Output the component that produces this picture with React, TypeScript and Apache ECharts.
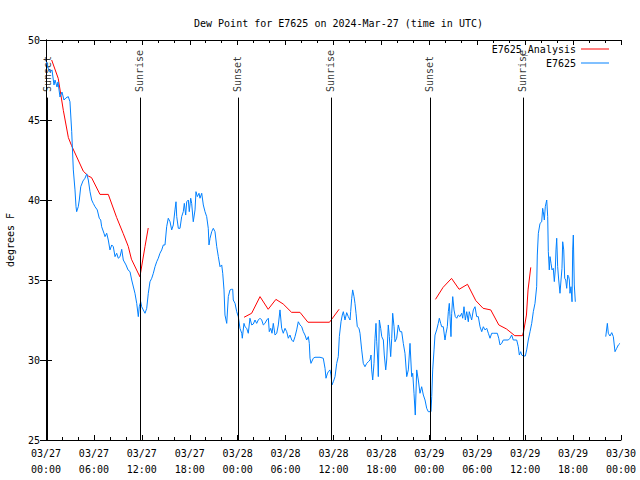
import React, { useEffect, useRef } from "react";
import * as echarts from "echarts";

// hours since 2024-03-27 00:00 UTC, dew point in degrees F
const analysisData: (number[] | null)[] = [
  [0.71, 48.75], [1.53, 47.6], [2.17, 45.6], [2.8, 43.9], [3.2, 43.4], [4.67, 41.8], [5.3, 41.5],
  [5.7, 41.4], [6.76, 40.35], [7.8, 40.35], [8.85, 38.9], [9.67, 37.9], [10.3, 37.1], [10.7, 36.3],
  [11.76, 35.2], [12.4, 37.1], [12.8, 38.25],
  null,
  [24.8, 32.67], [25.75, 32.92], [26.8, 33.96], [27.82, 33.17], [28.79, 33.79], [29.7, 33.5],
  [30.75, 32.98], [31.8, 32.98], [32.8, 32.36], [35.5, 32.36], [36.7, 33.17],
  null,
  [48.77, 33.79], [49.72, 34.54], [50.78, 35.1], [51.73, 34.42], [52.78, 34.73], [53.82, 33.71],
  [54.73, 33.23], [55.69, 33.13], [56.7, 32.19], [57.66, 31.94], [58.7, 31.52], [59.66, 31.52],
  [59.8, 31.77], [60.16, 32.81], [60.36, 34.38], [60.7, 35.79],
];

const stationData: (number[] | null)[] = [
  [0.06, 48.63], [0.25, 48.25], [0.5, 48.0], [0.75, 48.13], [1.0, 47.19], [1.13, 47.5], [1.38, 47.06],
  [1.5, 47.38], [1.75, 46.44], [2.0, 46.75], [2.25, 46.25], [2.5, 46.38], [2.79, 46.46], [3.0, 46.14],
  [3.22, 44.27], [3.42, 41.88], [3.63, 40.63], [3.76, 39.58], [3.84, 39.27], [4.04, 39.58], [4.17, 40.0],
  [4.35, 40.83], [4.63, 41.19], [4.88, 41.36], [5.1, 41.63], [5.3, 41.25], [5.51, 40.52], [5.72, 40.0],
  [5.92, 39.79], [6.14, 39.58], [6.42, 39.38], [6.67, 38.86], [6.85, 38.75], [6.97, 38.33], [7.26, 37.92],
  [7.39, 37.71], [7.6, 37.92], [7.8, 37.5], [8.01, 36.88], [8.23, 37.19], [8.43, 37.08], [8.64, 36.46],
  [8.85, 36.67], [9.05, 36.36], [9.27, 36.46], [9.48, 36.92], [9.68, 36.25], [10.02, 35.94], [10.27, 35.63],
  [10.52, 35.52], [10.73, 35.0], [11.14, 34.17], [11.36, 33.54], [11.56, 32.71], [11.68, 33.33],
  [11.86, 33.64], [11.98, 33.33], [12.18, 33.13], [12.4, 32.92], [12.61, 33.23], [12.81, 34.17],
  [13.02, 34.89], [13.24, 35.11], [13.44, 35.42], [13.65, 35.83], [13.86, 36.14], [14.06, 36.36],
  [14.27, 36.67], [14.49, 36.88], [14.69, 37.19], [14.9, 37.19], [15.11, 38.33], [15.31, 38.86],
  [15.53, 38.64], [15.74, 38.13], [15.94, 38.44], [16.15, 39.38], [16.28, 39.89], [16.37, 38.96],
  [16.57, 38.23], [16.78, 38.23], [16.99, 38.96], [17.19, 39.27], [17.32, 39.79], [17.49, 39.06],
  [17.62, 39.89], [17.82, 40.0], [17.94, 39.27], [18.12, 40.11], [18.24, 39.79], [18.44, 38.64],
  [18.66, 39.38], [18.78, 40.52], [18.95, 40.21], [19.16, 40.42], [19.28, 40.11], [19.5, 40.42],
  [19.7, 39.69], [19.91, 39.27], [20.12, 38.96], [20.32, 38.23], [20.41, 37.19], [20.54, 37.61],
  [20.75, 38.02], [20.95, 38.23], [21.16, 38.02], [21.38, 37.08], [21.58, 36.46], [21.79, 35.83],
  [22.0, 35.94], [22.13, 35.42], [22.29, 34.38], [22.41, 32.81], [22.63, 32.29], [22.83, 33.96],
  [23.04, 34.38], [23.25, 34.42], [23.38, 34.42], [23.45, 33.75], [23.67, 33.54], [23.88, 33.02],
  [24.08, 32.71], [24.29, 31.98], [24.51, 31.67], [24.58, 31.36], [24.79, 32.29], [24.92, 32.08],
  [25.13, 31.98], [25.33, 31.67], [25.54, 32.61], [25.76, 32.19], [25.96, 32.25], [26.17, 32.5],
  [26.38, 32.29], [26.58, 32.5], [26.8, 32.61], [27.01, 32.5], [27.21, 32.19], [27.42, 32.29],
  [27.64, 32.5], [27.84, 32.61], [27.96, 31.77], [28.14, 31.98], [28.3, 31.67], [28.46, 32.29],
  [28.68, 31.56], [28.89, 31.67], [29.09, 32.19], [29.3, 33.13], [29.51, 31.98], [29.71, 31.67],
  [29.93, 31.98], [30.14, 31.77], [30.34, 31.36], [30.55, 31.56], [30.77, 31.25], [30.97, 31.14],
  [31.18, 31.46], [31.39, 31.88], [31.59, 32.39], [31.81, 32.19], [32.02, 32.08], [32.22, 31.77],
  [32.43, 31.56], [32.64, 31.25], [32.85, 31.46], [32.97, 31.04], [33.06, 30.11], [33.18, 29.79],
  [33.47, 30.11], [33.68, 30.17], [34.31, 30.17], [34.72, 30.11], [34.94, 29.48], [35.06, 28.86],
  [35.22, 29.13], [35.35, 29.27], [35.56, 29.38], [35.69, 29.06], [35.81, 28.44], [35.98, 28.64],
  [36.19, 28.96], [36.4, 29.79], [36.6, 30.21], [36.73, 31.46], [36.94, 32.39], [37.1, 32.81],
  [37.23, 33.02], [37.44, 32.5], [37.65, 32.96], [37.85, 32.71], [38.07, 32.5], [38.15, 33.02],
  [38.28, 33.86], [38.4, 34.38], [38.57, 33.96], [38.69, 33.54], [38.82, 32.92], [38.98, 32.08],
  [39.19, 31.98], [39.32, 31.67], [39.53, 30.63], [39.73, 29.79], [39.94, 29.58], [40.16, 29.79],
  [40.36, 29.89], [40.57, 30.0], [40.7, 30.31], [40.78, 29.38], [40.91, 28.75], [41.07, 29.79],
  [41.2, 31.36], [41.32, 32.29], [41.41, 31.14], [41.54, 30.0], [41.61, 28.96], [41.74, 32.5],
  [41.91, 31.98], [42.04, 31.46], [42.24, 31.25], [42.36, 30.31], [42.54, 29.38], [42.66, 30.0],
  [42.86, 32.19], [42.99, 31.46], [43.16, 30.21], [43.29, 31.36], [43.41, 32.92], [43.58, 32.08],
  [43.7, 31.14], [43.91, 31.36], [44.11, 32.19], [44.33, 31.77], [44.54, 31.77], [44.74, 31.04],
  [44.95, 30.42], [45.17, 28.96], [45.37, 29.38], [45.58, 31.04], [45.79, 28.96], [45.92, 29.17],
  [46.08, 27.92], [46.24, 26.56], [46.42, 29.38], [46.62, 28.75], [46.83, 27.92], [47.04, 28.33],
  [47.25, 27.81], [47.46, 27.5], [47.67, 26.98], [47.87, 26.77], [48.21, 26.77], [48.3, 27.71],
  [48.42, 29.38], [48.59, 30.63], [48.71, 31.56], [48.92, 31.88], [49.12, 32.29], [49.25, 32.61],
  [49.42, 32.29], [49.55, 32.08], [49.75, 32.08], [49.96, 31.25], [50.09, 31.67], [50.25, 32.08],
  [50.38, 33.02], [50.5, 33.54], [50.59, 32.71], [50.71, 31.46], [50.8, 32.92], [50.93, 33.96],
  [51.09, 33.13], [51.25, 32.71], [51.43, 32.61], [51.63, 32.81], [51.84, 32.71], [52.05, 32.92],
  [52.18, 32.61], [52.34, 33.33], [52.51, 32.5], [52.68, 33.02], [52.88, 32.39], [53.0, 33.02],
  [53.18, 32.71], [53.3, 32.5], [53.51, 33.13], [53.72, 33.33], [53.93, 32.71], [54.13, 32.71],
  [54.35, 32.08], [54.56, 31.77], [54.76, 32.08], [54.97, 31.88], [55.19, 31.98], [55.39, 31.67],
  [55.6, 31.36], [55.81, 31.67], [56.01, 31.67], [56.51, 31.67], [56.69, 31.36], [56.85, 30.94],
  [57.06, 31.04], [57.26, 31.25], [57.89, 31.25], [58.1, 31.36], [58.31, 31.56], [58.51, 31.25],
  [58.94, 31.25], [59.14, 30.83], [59.27, 30.31], [59.44, 30.52], [59.57, 30.31], [59.77, 30.25],
  [60.02, 30.25], [60.19, 30.63], [60.39, 31.25], [60.61, 31.77], [60.82, 32.29], [61.02, 33.02],
  [61.23, 33.54], [61.44, 34.58], [61.52, 36.56], [61.65, 37.92], [61.86, 38.54], [62.07, 38.64],
  [62.19, 39.48], [62.27, 39.27], [62.4, 38.75], [62.52, 39.58], [62.7, 40.0], [62.82, 38.96],
  [62.9, 36.77], [63.02, 35.63], [63.11, 36.46], [63.24, 36.04], [63.36, 35.63], [63.52, 35.73],
  [63.65, 34.9], [63.77, 35.63], [63.86, 36.88], [63.95, 37.61], [64.07, 35.83], [64.2, 35.0],
  [64.36, 34.17], [64.49, 35.0], [64.61, 35.73], [64.7, 37.39], [64.83, 36.88], [64.95, 35.11],
  [65.08, 35.0], [65.2, 34.48], [65.33, 35.31], [65.45, 35.21], [65.53, 35.0], [65.61, 34.17],
  [65.74, 34.58], [65.87, 33.64], [65.95, 36.88], [66.03, 37.81], [66.15, 34.69], [66.28, 33.64],
  null,
  [70.09, 31.46], [70.29, 32.29], [70.41, 31.67], [70.62, 31.5], [70.84, 31.71], [71.04, 31.46],
  [71.25, 30.52], [71.46, 30.73], [71.67, 30.94], [71.88, 31.04],
];

const sunTimes = [0.13, 11.77, 24.03, 35.67, 48.06, 59.7];
const sunLabels = ["Sunset", "Sunrise", "Sunset", "Sunrise", "Sunset", "Sunrise"];
const sunLineTop = 46.4;
const sunLabelBase = 46.75;

const yTicks = { min: 25, max: 50, interval: 5 };
const xTicks = { min: 0, max: 72, interval: 6 };

const FONT = "DejaVu Sans Mono";

function fmtHour(h: number): string {
  const day = 27 + Math.floor(h / 24);
  const hr = Math.round(h % 24);
  return "03/" + String(day) + "\n" + String(hr).padStart(2, "0") + ":00";
}

export default function App() {
  const ref = useRef<HTMLDivElement>(null);
  useEffect(() => {
    if (!ref.current) return;
    const chart = echarts.init(ref.current, undefined, { renderer: "svg" });
    const axisLine = { show: true, lineStyle: { color: "#000", width: 1 } };
    chart.setOption({
      animation: false,
      backgroundColor: "#fff",
      textStyle: { fontFamily: FONT, color: "#000" },
      title: {
        text: "Dew Point for E7625 on 2024-Mar-27 (time in UTC)",
        left: 189,
        top: 13,
        textStyle: { fontFamily: FONT, fontSize: 10, fontWeight: "normal", color: "#000" },
      },
      legend: {
        data: [
          { name: "E7625_Analysis", icon: "rect" },
          { name: "E7625", icon: "rect" },
        ],
        orient: "vertical",
        right: 26,
        top: 38,
        align: "right",
        itemWidth: 28,
        itemHeight: 1,
        itemGap: 2,
        textStyle: { fontFamily: FONT, fontSize: 10, color: "#000", lineHeight: 12 },
      },
      grid: { left: 46, right: 19, top: 40, bottom: 40, containLabel: false, outerBoundsMode: "none" },
      xAxis: [
        {
          type: "value",
          min: xTicks.min,
          max: xTicks.max,
          interval: xTicks.interval,
          axisLine,
          axisTick: { show: true, inside: true, length: 5, lineStyle: { color: "#000" } },
          minorTick: { show: true, splitNumber: 3, length: 3, lineStyle: { color: "#000" } },
          splitLine: { show: false },
          axisLabel: {
            formatter: (v: number) => fmtHour(v),
            fontFamily: FONT,
            fontSize: 10,
            color: "#000",
            lineHeight: 16,
            margin: 5,
            hideOverlap: false,
          },
        },
        {
          type: "value",
          position: "top",
          min: xTicks.min,
          max: xTicks.max,
          interval: xTicks.interval,
          axisLine,
          axisTick: { show: true, inside: true, length: 5, lineStyle: { color: "#000" } },
          minorTick: { show: true, splitNumber: 3, length: 3, lineStyle: { color: "#000" } },
          splitLine: { show: false },
          axisLabel: { show: false },
        },
      ],
      yAxis: [
        {
          type: "value",
          min: yTicks.min,
          max: yTicks.max,
          interval: yTicks.interval,
          name: "degrees F",
          nameLocation: "middle",
          nameRotate: 90,
          nameGap: 31,
          nameTextStyle: { fontFamily: FONT, fontSize: 10, color: "#000" },
          axisLine,
          axisTick: { show: true, inside: true, length: 6, lineStyle: { color: "#000" } },
          splitLine: { show: false },
          axisLabel: { fontFamily: FONT, fontSize: 10, color: "#000", margin: 6 },
        },
        {
          type: "value",
          position: "right",
          min: yTicks.min,
          max: yTicks.max,
          interval: yTicks.interval,
          axisLine,
          axisTick: { show: true, inside: true, length: 6, lineStyle: { color: "#000" } },
          splitLine: { show: false },
          axisLabel: { show: false },
        },
      ],
      series: [
        {
          name: "sun",
          type: "scatter",
          symbolSize: 0,
          silent: true,
          data: sunTimes.map((t) => [t, sunLabelBase]),
          label: {
            show: true,
            position: "inside",
            rotate: 90,
            align: "left",
            verticalAlign: "middle",
            formatter: (p: any) => sunLabels[p.dataIndex],
            fontFamily: FONT,
            fontSize: 10,
            color: "#000",
          },
          markLine: {
            silent: true,
            symbol: "none",
            label: { show: false },
            lineStyle: { color: "#000", width: 1, type: "solid" },
            data: sunTimes.map((t) => [{ coord: [t, sunLineTop] }, { coord: [t, yTicks.min] }]),
          },
        },
        {
          name: "E7625_Analysis",
          type: "line",
          data: analysisData,
          symbol: "none",
          showSymbol: false,
          connectNulls: false,
          lineStyle: { color: "#ff0000", width: 1 },
          itemStyle: { color: "#ff0000" },
        },
        {
          name: "E7625",
          type: "line",
          data: stationData,
          symbol: "none",
          showSymbol: false,
          connectNulls: false,
          lineStyle: { color: "#0080ff", width: 1 },
          itemStyle: { color: "#0080ff" },
        },
      ],
    });
    return () => chart.dispose();
  }, []);
  return <div ref={ref} style={{ width: 640, height: 480, position: "absolute", left: 0, top: 0 }} />;
}
